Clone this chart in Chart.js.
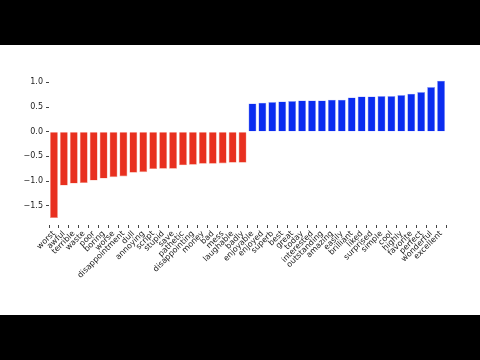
<!DOCTYPE html>
<html>
<head>
<meta charset="utf-8">
<script src="https://cdn.jsdelivr.net/npm/chart.js@4"></script>
<style>
  html, body { margin: 0; padding: 0; background: #000; }
  #wrap { position: absolute; left: 0; top: 45px; width: 480px; height: 270px; background: #fff; }
</style>
</head>
<body>
<div id="wrap"><canvas id="chart" width="480" height="270"></canvas></div>
<script>
// words sorted by coefficient
const negWords = ['worst', 'awful', 'terrible', 'waste', 'poor', 'boring', 'worse', 'disappointment', 'dull', 'annoying',
    'script', 'stupid', 'save', 'pathetic', 'disappointing', 'money', 'bad', 'mess', 'laughable', 'badly'];
const negValues = [-1.75, -1.09, -1.05, -1.04, -0.99, -0.95, -0.92, -0.905, -0.83, -0.82,
    -0.757, -0.75, -0.75, -0.68, -0.67, -0.65, -0.65, -0.642, -0.628, -0.628];
const posWords = ['enjoyable', 'enjoyed', 'superb', 'best', 'great', 'today', 'interested', 'outstanding', 'amazing', 'easily',
    'brilliant', 'liked', 'surprised', 'simple', 'cool', 'highly', 'favorite', 'perfect', 'wonderful', 'excellent'];
const posValues = [0.574, 0.588, 0.601, 0.615, 0.622, 0.635, 0.635, 0.635, 0.649, 0.649,
    0.696, 0.716, 0.716, 0.723, 0.723, 0.743, 0.77, 0.804, 0.905, 1.034];
const yTicks = [-1.5, -1.0, -0.5, 0.0, 0.5, 1.0];

const labels = negWords.concat(posWords);
const values = negValues.concat(posValues);
const colors = values.map(v => v < 0 ? '#e8301f' : '#0a2cf0');
const edges = values.map(v => v < 0 ? '#f3a08f' : '#8f9cf6');

new Chart(document.getElementById('chart').getContext('2d'), {
    type: 'bar',
    data: {
        labels: labels,
        datasets: [{ data: values, backgroundColor: colors, borderColor: edges, borderWidth: 0.6,
            categoryPercentage: 1.0, barPercentage: 0.8 }]
    },
    options: {
        responsive: false,
        animation: false,
        layout: { padding: { left: 0, right: 34, top: 29, bottom: 0 } },
        plugins: { legend: { display: false }, tooltip: { enabled: false } },
        scales: {
            x: {
                grid: { drawOnChartArea: false, drawTicks: true, tickLength: 3, color: '#444' },
                border: { display: false },
                ticks: {
                    autoSkip: false, maxRotation: 45, minRotation: 45, padding: 1,
                    color: '#222', font: { family: 'DejaVu Sans', size: 8 }
                },
                afterFit: s => { s.height = 90; }
            },
            y: {
                min: -1.89, max: 1.17,
                grid: { drawOnChartArea: false, drawTicks: true, tickLength: 3, color: '#444' },
                border: { display: false },
                afterBuildTicks: s => { s.ticks = yTicks.map(v => ({ value: v })); },
                afterFit: s => { s.width = 49; },
                ticks: {
                    padding: 3, color: '#222', font: { family: 'DejaVu Sans', size: 8 },
                    callback: v => v.toFixed(1).replace('-', '\u2212')
                }
            }
        }
    }
});
</script>
</body>
</html>
